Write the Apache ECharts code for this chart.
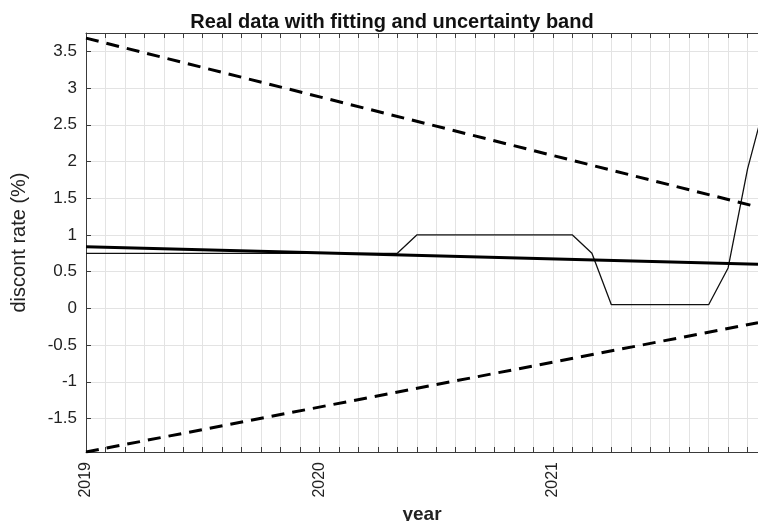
<!DOCTYPE html>
<html>
<head>
<meta charset="utf-8">
<script src="https://cdn.jsdelivr.net/npm/echarts@6/dist/echarts.min.js"></script>
<style>
html,body{margin:0;padding:0;background:#fff;}
#c{width:758px;height:521px;}
</style>
</head>
<body>
<div id="c"></div>
<script>
// Monthly real data, Jan 2019 .. Dec 2021 (discount rate, %)
var startYear = 2019;
var rateValues = [
  0.75, 0.75, 0.75, 0.75, 0.75, 0.75, 0.75, 0.75, 0.75, 0.75, 0.75, 0.75,
  0.75, 0.75, 0.75, 0.75, 0.75, 1.0, 1.0, 1.0, 1.0, 1.0, 1.0, 1.0,
  1.0, 1.0, 0.75, 0.05, 0.05, 0.05, 0.05, 0.05, 0.05, 0.55, 1.9, 2.9
];
// Linear fit and uncertainty band end points
var bandX = [2019, 2021.878];
var fitY = [0.84, 0.60];
var upperY = [3.68, 1.38];
var lowerY = [-1.956, -0.195];
var yearTicks = [2019, 2020, 2021];
var yTicks = [-1.5, -1, -0.5, 0, 0.5, 1, 1.5, 2, 2.5, 3, 3.5];

var xMin = 2019, xMax = 2021.878;
var yMin = -1.956, yMax = 3.75;

var rateData = rateValues.map(function (v, i) { return [startYear + i / 12, v]; });
function pairs(xs, ys) { return xs.map(function (x, i) { return [x, ys[i]]; }); }

var axisCol = '#3a3a3a';
var gridCol = '#e3e3e3';
var font = 'Liberation Sans, Arial, sans-serif';

var chart = echarts.init(document.getElementById('c'), null, {renderer: 'canvas'});
chart.setOption({
  animation: false,
  backgroundColor: '#ffffff',
  title: {
    text: 'Real data with fitting and uncertainty band',
    left: 387, top: 7, textAlign: 'center',
    textStyle: {fontFamily: font, fontSize: 20, fontWeight: 'bold', color: '#111'}
  },
  grid: {left: 86, top: 33, right: 0, bottom: 69, containLabel: false, outerBoundsMode: 'none'},
  xAxis: [{
    type: 'value', min: xMin, max: xMax, interval: 1 / 12,
    position: 'bottom',
    name: 'year', nameLocation: 'middle', nameGap: 49,
    nameTextStyle: {fontFamily: font, fontSize: 19, fontWeight: 'bold', color: '#222'},
    axisLine: {show: true, onZero: false, lineStyle: {color: axisCol, width: 1}},
    axisTick: {show: true, inside: true, length: 5, lineStyle: {color: axisCol}},
    axisLabel: {
      rotate: 90, margin: 10, fontFamily: font, fontSize: 16, color: '#222',
      showMinLabel: true, showMaxLabel: false,
      formatter: function (v) {
        for (var k = 0; k < yearTicks.length; k++) {
          if (Math.abs(v - yearTicks[k]) < 1e-6) return String(yearTicks[k]);
        }
        return '';
      }
    },
    splitLine: {show: true, lineStyle: {color: gridCol, width: 1}}
  }, {
    type: 'value', min: xMin, max: xMax, interval: 1 / 12,
    position: 'top',
    axisLine: {show: true, onZero: false, lineStyle: {color: axisCol, width: 1}},
    axisTick: {show: true, inside: true, length: 5, lineStyle: {color: axisCol}},
    axisLabel: {show: false},
    splitLine: {show: false}
  }],
  yAxis: {
    type: 'value', min: yMin, max: yMax,
    name: 'discont rate (%)', nameLocation: 'middle', nameGap: 57, nameRotate: 90,
    nameTextStyle: {fontFamily: font, fontSize: 20, color: '#222'},
    axisLine: {show: true, onZero: false, lineStyle: {color: axisCol, width: 1}},
    axisTick: {show: true, inside: true, length: 5, lineStyle: {color: axisCol}, customValues: yTicks},
    axisLabel: {
      margin: 9, fontFamily: font, fontSize: 17, color: '#222', customValues: yTicks,
      formatter: function (v) { return String(v); }
    },
    splitLine: {show: true, lineStyle: {color: gridCol, width: 1}}
  },
  series: [{
    type: 'line', data: rateData, showSymbol: false, symbol: 'none',
    lineStyle: {color: '#111', width: 1.3}, clip: true, z: 3
  }, {
    type: 'line', data: pairs(bandX, fitY), showSymbol: false, symbol: 'none',
    lineStyle: {color: '#000', width: 3}, clip: true, z: 4
  }, {
    type: 'line', data: pairs(bandX, upperY), showSymbol: false, symbol: 'none',
    lineStyle: {color: '#000', width: 3, type: [13, 8]}, clip: true, z: 4
  }, {
    type: 'line', data: pairs(bandX, lowerY), showSymbol: false, symbol: 'none',
    lineStyle: {color: '#000', width: 3, type: [13, 8]}, clip: true, z: 4
  }]
});
</script>
</body>
</html>
